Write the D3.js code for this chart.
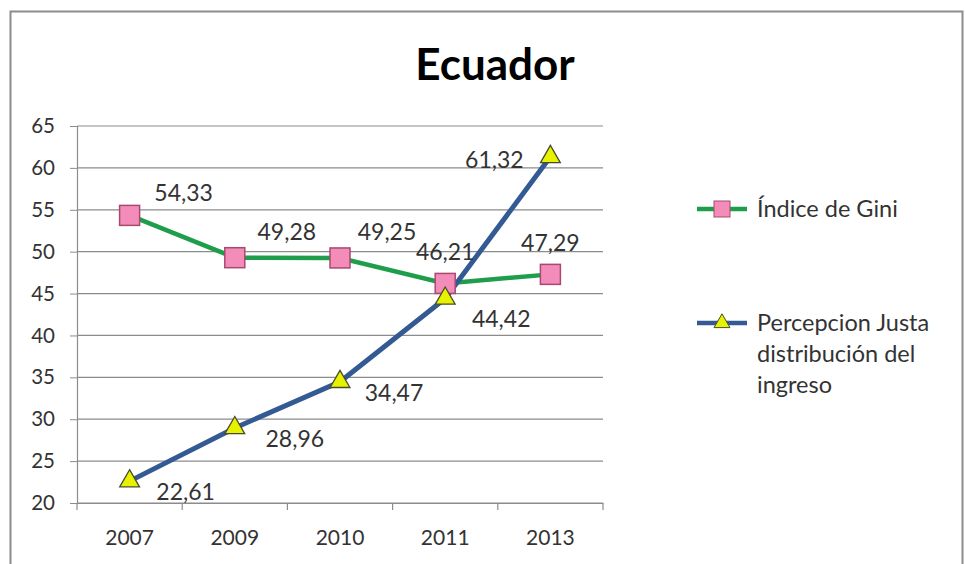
<!DOCTYPE html>
<html><head><meta charset="utf-8">
<script src="https://cdn.jsdelivr.net/npm/d3@7"></script>
<style>body{margin:0;background:#fff;}svg{display:block;font-family:Lato,"Open Sans",sans-serif;}</style>
</head><body><svg id="c" width="965" height="564"></svg>
<script>
const categories = ["2007","2009","2010","2011","2013"];
const giniValues = [54.33,49.28,49.25,46.21,47.29];
const percepValues = [22.61,28.96,34.47,44.42,61.32];
const yTicks = [20,25,30,35,40,45,50,55,60,65];
const seriesNames = ["Índice de Gini", "Percepcion Justa distribución del ingreso"];

(function(){
const svg = d3.select("#c");
svg.append("rect").attr("x",10.5).attr("y",11.5).attr("width",952).attr("height",560)
  .attr("fill","#fff").attr("stroke","#8c8c8c").attr("stroke-width",2);

const pL=77, pR=603, pT=126, pB=503;
const x = d3.scaleBand().domain(categories).range([pL,pR]);
const y = d3.scaleLinear().domain([20,65]).range([pB,pT]);
const fmt = v => d3.format(".2f")(v).replace(".",",");

svg.append("g").selectAll("line").data(yTicks).join("line")
  .attr("x1",pL).attr("x2",pR).attr("y1",d=>y(d)).attr("y2",d=>y(d))
  .attr("stroke","#8c8c8c").attr("stroke-width",1.2);

const ya = svg.append("g").attr("transform",`translate(${pL},0)`)
  .call(d3.axisLeft(y).tickValues(yTicks).tickSize(7).tickPadding(15).tickFormat(d3.format("d")));
ya.select(".domain").attr("stroke","#8c8c8c").attr("stroke-width",1.2);
ya.selectAll(".tick line").attr("stroke","#8c8c8c");
ya.selectAll("text").attr("font-size",20.5).attr("fill","#333").attr("font-family","Lato,'Open Sans',sans-serif");

const xa = svg.append("g").attr("transform",`translate(0,${pB})`)
  .call(d3.axisBottom(x).tickSize(0).tickPadding(27));
xa.select(".domain").attr("stroke","#8c8c8c").attr("stroke-width",1.2);
xa.selectAll("text").attr("font-size",21).attr("fill","#333").attr("font-family","Lato,'Open Sans',sans-serif");
svg.append("g").selectAll("line").data(d3.range(categories.length+1)).join("line")
  .attr("x1",i=>pL+i*x.step()).attr("x2",i=>pL+i*x.step())
  .attr("y1",pB).attr("y2",pB+7).attr("stroke","#8c8c8c").attr("stroke-width",1.2);

const cx = c => x(c)+x.bandwidth()/2;
const line = d3.line().x((d,i)=>cx(categories[i])).y(d=>y(d));

svg.append("text").attr("x",495).attr("y",80).attr("text-anchor","middle")
  .attr("font-size",44).attr("font-weight","bold").attr("fill","#000").text("Ecuador");

svg.append("path").datum(giniValues).attr("d",line).attr("fill","none")
  .attr("stroke","#1e9e4a").attr("stroke-width",4.5);
svg.append("path").datum(percepValues).attr("d",line).attr("fill","none")
  .attr("stroke","#345a93").attr("stroke-width",5);

const sq = 20;
svg.append("g").selectAll("rect").data(giniValues).join("rect")
  .attr("x",(d,i)=>cx(categories[i])-sq/2).attr("y",d=>y(d)-sq/2)
  .attr("width",sq).attr("height",sq).attr("fill","#f48cba").attr("stroke","#a8496f").attr("stroke-width",1.5);

const tri = d3.symbol().type(d3.symbolTriangle).size(170);
svg.append("g").selectAll("path").data(percepValues).join("path")
  .attr("transform",(d,i)=>`translate(${cx(categories[i])},${y(d)})`)
  .attr("d",tri).attr("fill","#e6f200").attr("stroke","#4a4a30").attr("stroke-width",1.3);

const giniOff = [[54,-21],[52,-25],[47,-25],[0,-30],[0,-30]];
const percOff = [[56,12],[60,12],[54,12],[56,22],[-56,4]];
const lbl = svg.append("g").attr("font-size",23).attr("fill","#333").attr("text-anchor","middle");
giniValues.forEach((v,i)=>{
  lbl.append("text").attr("x",cx(categories[i])+giniOff[i][0]).attr("y",y(v)+giniOff[i][1]+7).text(fmt(v));
});
percepValues.forEach((v,i)=>{
  lbl.append("text").attr("x",cx(categories[i])+percOff[i][0]).attr("y",y(v)+percOff[i][1]+7).text(fmt(v));
});

const lg = svg.append("g");
lg.append("line").attr("x1",697).attr("x2",747).attr("y1",209).attr("y2",209).attr("stroke","#1e9e4a").attr("stroke-width",4.5);
lg.append("rect").attr("x",714).attr("y",201).attr("width",16).attr("height",16).attr("fill","#f48cba").attr("stroke","#a8496f");
lg.append("text").attr("x",757).attr("y",217).attr("font-size",23.5).attr("fill","#333").text(seriesNames[0]);
lg.append("line").attr("x1",697).attr("x2",747).attr("y1",323).attr("y2",323).attr("stroke","#345a93").attr("stroke-width",4.5);
lg.append("path").attr("transform","translate(722,323)").attr("d",d3.symbol().type(d3.symbolTriangle).size(110))
  .attr("fill","#e6f200").attr("stroke","#4a4a30");
const l2 = lg.append("text").attr("x",757).attr("font-size",23.5).attr("fill","#333");
["Percepcion Justa","distribución del","ingreso"].forEach((t,i)=>{
  l2.append("tspan").attr("x",757).attr("y",331+i*31).text(t);
});
})();
</script></body></html>
